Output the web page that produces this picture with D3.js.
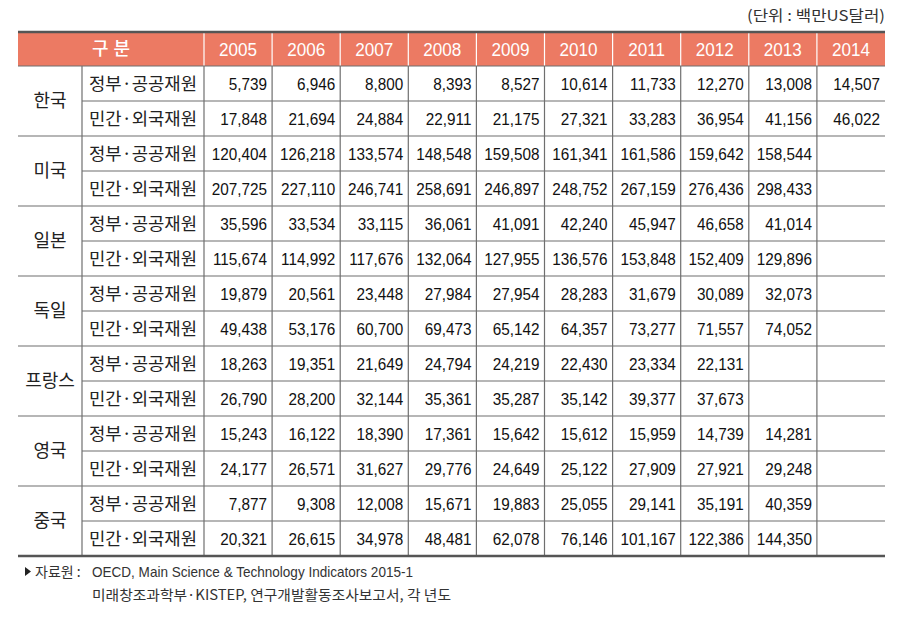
<!DOCTYPE html>
<html><head><meta charset="utf-8">
<script src="https://cdn.jsdelivr.net/npm/d3@7"></script>
<style>
body{margin:0;background:#fff;}
svg{display:block;}
</style></head>
<body>
<svg id="chart" width="906" height="617"></svg>
<script>
const years = ["2005","2006","2007","2008","2009","2010","2011","2012","2013","2014"];
const countries = ["한국","미국","일본","독일","프랑스","영국","중국"];
const rowLabels = ["정부·공공재원","민간·외국재원"];
const govFunds = [
  [5739, 6946, 8800, 8393, 8527, 10614, 11733, 12270, 13008, 14507],
  [120404, 126218, 133574, 148548, 159508, 161341, 161586, 159642, 158544, null],
  [35596, 33534, 33115, 36061, 41091, 42240, 45947, 46658, 41014, null],
  [19879, 20561, 23448, 27984, 27954, 28283, 31679, 30089, 32073, null],
  [18263, 19351, 21649, 24794, 24219, 22430, 23334, 22131, null, null],
  [15243, 16122, 18390, 17361, 15642, 15612, 15959, 14739, 14281, null],
  [7877, 9308, 12008, 15671, 19883, 25055, 29141, 35191, 40359, null]
];
const privFunds = [
  [17848, 21694, 24884, 22911, 21175, 27321, 33283, 36954, 41156, 46022],
  [207725, 227110, 246741, 258691, 246897, 248752, 267159, 276436, 298433, null],
  [115674, 114992, 117676, 132064, 127955, 136576, 153848, 152409, 129896, null],
  [49438, 53176, 60700, 69473, 65142, 64357, 73277, 71557, 74052, null],
  [26790, 28200, 32144, 35361, 35287, 35142, 39377, 37673, null, null],
  [24177, 26571, 31627, 29776, 24649, 25122, 27909, 27921, 29248, null],
  [20321, 26615, 34978, 48481, 62078, 76146, 101167, 122386, 144350, null]
];
const headerLabel = "구 분";
const unitText = "(단위 : 백만US달러)";
const sourceLine1 = "자료원 : ";
const sourceLine1b = "OECD, Main Science & Technology Indicators 2015-1";
const sourceLine2 = "미래창조과학부·KISTEP, 연구개발활동조사보고서, 각 년도";

const svg = d3.select("#chart");
const L = 18, R = 885, C1 = 82, C2 = 204;
const headTop = 32, headBot = 66, tableBot = 556;
const KR = "'Noto Sans CJK KR','Noto Sans',sans-serif";
const NUM = "'Liberation Sans',Arial,sans-serif";
const headColor = "#ec7a63";
const lineColor = "#6f6f6f";
const fmt = d3.format(",");

const x = d3.scaleBand().domain(years).range([C2, R]);
const rows = [];
countries.forEach((c,ci)=>rowLabels.forEach((l,li)=>rows.push({ci,li,key:ci+"-"+li})));
const y = d3.scaleBand().domain(rows.map(r=>r.key)).range([headBot, tableBot]);

// header background
svg.append("rect").attr("x",L).attr("y",headTop).attr("width",R-L).attr("height",headBot-headTop).attr("fill",headColor);
// header vertical white lines
svg.selectAll(".hv").data(years).enter().append("line")
  .attr("x1",d=>x(d)).attr("x2",d=>x(d)).attr("y1",headTop).attr("y2",headBot)
  .attr("stroke","#fff").attr("stroke-width",1.2);
// header texts
svg.append("text").attr("x",(L+C2)/2).attr("y",(headTop+headBot)/2+6)
  .attr("text-anchor","middle").attr("fill","#fff").attr("font-family",KR).attr("font-size",18).attr("font-weight",500)
  .attr("textLength",38).attr("lengthAdjust","spacing")
  .text(headerLabel);
svg.selectAll(".yr").data(years).enter().append("text")
  .attr("transform",d=>`translate(${x(d)+x.bandwidth()/2},${(headTop+headBot)/2+7}) scale(0.9,1)`)
  .attr("text-anchor","middle").attr("fill","#fff").attr("font-family",NUM).attr("font-size",19)
  .text(d=>d);

// horizontal lines inside body
rows.forEach((r,i)=>{
  if(i===0) return;
  const yy = y(r.key);
  svg.append("line").attr("x1", r.li===0 ? L : C1).attr("x2",R).attr("y1",yy).attr("y2",yy)
    .attr("stroke",lineColor).attr("stroke-width",1.2);
});
// header bottom line
svg.append("line").attr("x1",L).attr("x2",R).attr("y1",headBot).attr("y2",headBot).attr("stroke",lineColor).attr("stroke-width",1.2);
// vertical lines in body
const vx = [C1, C2].concat(years.slice(1).map(d=>x(d)));
svg.selectAll(".bv").data(vx).enter().append("line")
  .attr("x1",d=>d).attr("x2",d=>d).attr("y1",headBot).attr("y2",tableBot)
  .attr("stroke",lineColor).attr("stroke-width",1.2);
// thick top / bottom
svg.append("line").attr("x1",L).attr("x2",R).attr("y1",headTop).attr("y2",headTop).attr("stroke","#555").attr("stroke-width",2.5);
svg.append("line").attr("x1",L).attr("x2",R).attr("y1",tableBot).attr("y2",tableBot).attr("stroke","#555").attr("stroke-width",2.5);

// country labels
countries.forEach((c,ci)=>{
  const y0 = y(ci+"-0"), y1 = y(ci+"-1")+y.bandwidth();
  svg.append("text").attr("x",(L+C1)/2).attr("y",(y0+y1)/2+6)
    .attr("text-anchor","middle").attr("fill","#222").attr("font-family",KR).attr("font-size",18)
    .text(c);
});
// row labels
rows.forEach(r=>{
  svg.append("text").attr("x",(C1+C2)/2).attr("y",y(r.key)+y.bandwidth()/2+6)
    .attr("text-anchor","middle").attr("fill","#222").attr("font-family",KR).attr("font-size",17)
    .attr("textLength",108).attr("lengthAdjust","spacingAndGlyphs")
    .text(rowLabels[r.li]);
});
// values
rows.forEach(r=>{
  const vals = r.li===0 ? govFunds[r.ci] : privFunds[r.ci];
  vals.forEach((v,j)=>{
    if(v==null) return;
    svg.append("text")
      .attr("transform",`translate(${x(years[j])+x.bandwidth()-5},${y(r.key)+y.bandwidth()/2+6}) scale(0.9,1)`)
      .attr("text-anchor","end").attr("fill","#111").attr("font-family",NUM).attr("font-size",17)
      .text(fmt(v));
  });
});

// unit text
svg.append("text").attr("x",R).attr("y",21).attr("text-anchor","end").attr("fill","#333")
  .attr("font-family",KR).attr("font-size",15)
  .attr("textLength",138).attr("lengthAdjust","spacingAndGlyphs").text(unitText);

// source
svg.append("path").attr("d","M25,567 L31,571.5 L25,576 Z").attr("fill","#222");
svg.append("text").attr("x",35).attr("y",577).attr("fill","#333").attr("font-family",KR).attr("font-size",14).text(sourceLine1);
svg.append("text").attr("x",92).attr("y",577).attr("fill","#333").attr("font-family",NUM).attr("font-size",15)
  .attr("textLength",321).attr("lengthAdjust","spacingAndGlyphs").text(sourceLine1b);
svg.append("text").attr("x",92).attr("y",600).attr("fill","#333").attr("font-family",KR).attr("font-size",14)
  .attr("textLength",359).attr("lengthAdjust","spacingAndGlyphs").text(sourceLine2);
</script>
</body></html>
